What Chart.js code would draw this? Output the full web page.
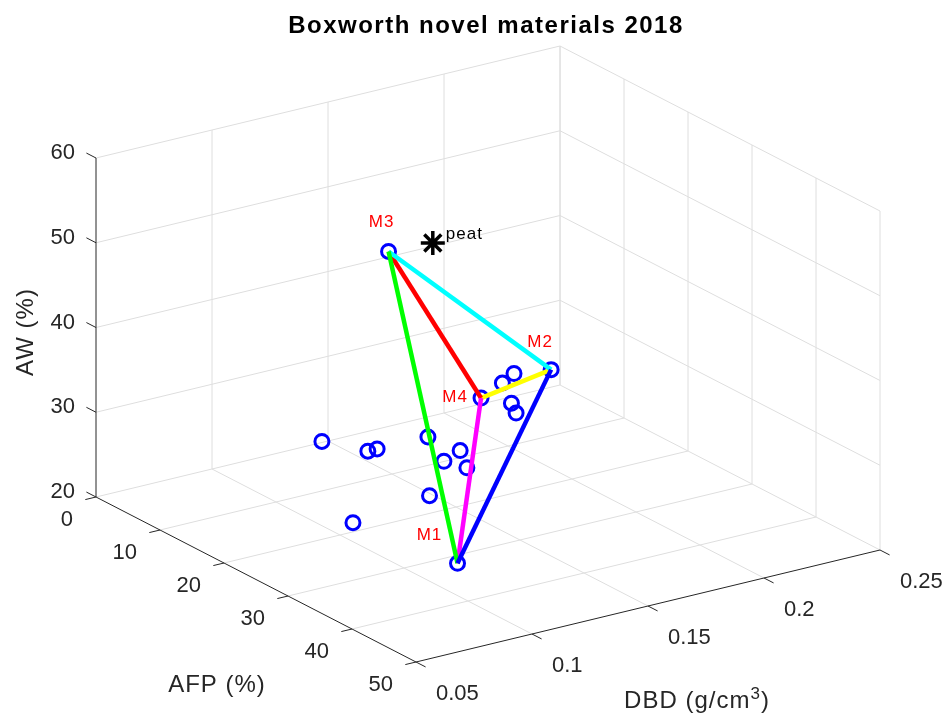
<!DOCTYPE html>
<html>
<head>
<meta charset="utf-8">
<title>Boxworth novel materials 2018</title>
<script src="https://cdn.jsdelivr.net/npm/chart.js@4"></script>
<style>
  html, body { margin: 0; padding: 0; background: #fff; }
  canvas { display: block; }
</style>
</head>
<body>
<canvas id="boxworthChart" width="945" height="717"></canvas>
<script>
// Axis ticks
const dbdTicks = [0.05, 0.1, 0.15, 0.2, 0.25];
const afpTicks = [0, 10, 20, 30, 40, 50];
const awTicks = [20, 30, 40, 50, 60];

// The four novel materials
const materialNames = ['M1', 'M2', 'M3', 'M4'];
const materialDBD = [0.101, 0.191, 0.143, 0.147];
const materialAFP = [38, 20, 12, 25];
const materialAW = [23.6, 33.5, 47.5, 35.0];

// Mixes of the materials
const mixDBD = [0.106, 0.112, 0.116, 0.131, 0.131, 0.138, 0.134, 0.111, 0.078, 0.170, 0.175, 0.167, 0.169];
const mixAFP = [15, 20, 20, 22.5, 25, 25, 27.5, 30, 30, 20, 20, 22.5, 22.5];
const mixAW = [28.7, 29.1, 29.1, 30.5, 28.6, 29.4, 28.6, 27.8, 26.8, 33.3, 34.1, 32.1, 30.8];

// Peat reference
const peatDBD = [0.140];
const peatAFP = [20];
const peatAW = [51.8];

// Which materials are joined (index into materialNames)
const linkFrom = [0, 0, 0, 1, 2, 1];
const linkTo = [1, 2, 3, 2, 3, 3];
const linkColors = ['#0000ff', '#00ff00', '#ff00ff', '#00ffff', '#ff0000', '#ffff00'];

const FONT = '"Liberation Sans", Arial, Helvetica, sans-serif';
const AXIS_COLOR = '#262626';
const GRID_COLOR = '#dedede';

/* Screen placement of the 3D box (matlab default-ish view) */
const view = { ox: 96, oy: 497, ex: [464, -112], ey: [320, 165], ez: [0, -339] };

const dbdMin = dbdTicks[0], dbdMax = dbdTicks[dbdTicks.length - 1];
const afpMin = afpTicks[0], afpMax = afpTicks[afpTicks.length - 1];
const awMin = awTicks[0], awMax = awTicks[awTicks.length - 1];

/* Orthographic projection of a data point to the flat chart scales */
const project = (dbd, afp, aw) => {
    const u = (dbd - dbdMin) / (dbdMax - dbdMin);
    const v = (afp - afpMin) / (afpMax - afpMin);
    const w = (aw - awMin) / (awMax - awMin);
    return {
        x: view.ox + u * view.ex[0] + v * view.ey[0] + w * view.ez[0],
        y: view.oy + u * view.ex[1] + v * view.ey[1] + w * view.ez[1]
    };
};

/* A two-point line dataset between two 3D points */
const segment = (a, b, color, width, order) => ({
    type: 'scatter',
    data: [project(...a), project(...b)],
    showLine: true,
    borderColor: color,
    borderWidth: width,
    pointRadius: 0,
    fill: false,
    order: order
});

/* Grid lines on the three back planes */
const buildGrid = () => {
    let sets = [];
    // back wall (AFP = min)
    dbdTicks.slice(1).forEach(d => sets.push(segment([d, afpMin, awMin], [d, afpMin, awMax], GRID_COLOR, 1, 20)));
    awTicks.forEach(a => sets.push(segment([dbdMin, afpMin, a], [dbdMax, afpMin, a], GRID_COLOR, 1, 20)));
    // side wall (DBD = max)
    afpTicks.forEach(f => sets.push(segment([dbdMax, f, awMin], [dbdMax, f, awMax], GRID_COLOR, 1, 20)));
    awTicks.slice(1).forEach(a => sets.push(segment([dbdMax, afpMin, a], [dbdMax, afpMax, a], GRID_COLOR, 1, 20)));
    // floor (AW = min)
    dbdTicks.slice(1).forEach(d => sets.push(segment([d, afpMin, awMin], [d, afpMax, awMin], GRID_COLOR, 1, 20)));
    afpTicks.slice(1, -1).forEach(f => sets.push(segment([dbdMin, f, awMin], [dbdMax, f, awMin], GRID_COLOR, 1, 20)));
    return sets;
};

/* Axis lines and tick marks */
const buildAxes = () => {
    let sets = [];
    sets.push(segment([dbdMin, afpMin, awMin], [dbdMin, afpMin, awMax], AXIS_COLOR, 1, 15));
    sets.push(segment([dbdMin, afpMin, awMin], [dbdMin, afpMax, awMin], AXIS_COLOR, 1, 15));
    sets.push(segment([dbdMin, afpMax, awMin], [dbdMax, afpMax, awMin], AXIS_COLOR, 1, 15));

    const afpTick = 0.03 * (afpMax - afpMin);
    const dbdTick = 0.023 * (dbdMax - dbdMin);
    awTicks.forEach(a => sets.push(segment([dbdMin, afpMin, a], [dbdMin, afpMin - afpTick, a], AXIS_COLOR, 1, 15)));
    afpTicks.forEach(f => sets.push(segment([dbdMin, f, awMin], [dbdMin - dbdTick, f, awMin], AXIS_COLOR, 1, 15)));
    dbdTicks.forEach(d => sets.push(segment([d, afpMax, awMin], [d, afpMax + afpTick, awMin], AXIS_COLOR, 1, 15)));
    return sets;
};

/* Lines joining the materials */
const buildLinks = () => linkFrom.map((from, i) => {
    const to = linkTo[i];
    return segment(
        [materialDBD[from], materialAFP[from], materialAW[from]],
        [materialDBD[to], materialAFP[to], materialAW[to]],
        linkColors[i], 4.5, 3);
});

// pixel offsets of the text labels from their markers
const materialLabelOffset = [[-28, -28], [-11, -27], [-7, -29], [-26, -1]];

/* Draws the title, tick labels, axis labels and marker labels */
const textPlugin = {
    id: 'textPlugin',
    afterDatasetsDraw(chart) {
        const ctx = chart.ctx;
        const sx = chart.scales.x, sy = chart.scales.y;
        const px = (p) => ({ x: sx.getPixelForValue(p.x), y: sy.getPixelForValue(p.y) });
        const spacing = (s) => { if ('letterSpacing' in ctx) ctx.letterSpacing = s; };

        ctx.save();
        ctx.fillStyle = AXIS_COLOR;

        // tick labels
        spacing('0px');
        ctx.font = '22px ' + FONT;
        ctx.textBaseline = 'middle';
        ctx.textAlign = 'right';
        awTicks.forEach(a => {
            const p = px(project(dbdMin, afpMin, a));
            ctx.fillText(String(a), p.x - 21, p.y - 5);
        });
        afpTicks.forEach(f => {
            const p = px(project(dbdMin, f, awMin));
            ctx.fillText(String(f), p.x - 23, p.y + 23);
        });
        ctx.textAlign = 'left';
        dbdTicks.forEach(d => {
            const p = px(project(d, afpMax, awMin));
            ctx.fillText(String(d), p.x + 20, p.y + 32);
        });

        // axis labels
        spacing('1px');
        ctx.font = '24px ' + FONT;
        ctx.textBaseline = 'alphabetic';
        ctx.textAlign = 'center';
        ctx.fillText('AFP (%)', 217, 692);

        ctx.save();
        ctx.translate(33, 332);
        ctx.rotate(-Math.PI / 2);
        ctx.fillText('AW (%)', 0, 0);
        ctx.restore();

        // DBD label with superscript
        const main = 'DBD (g/cm';
        ctx.font = '24px ' + FONT;
        const w1 = ctx.measureText(main).width;
        const w3 = ctx.measureText(')').width;
        ctx.font = '17px ' + FONT;
        const w2 = ctx.measureText('3').width;
        let x0 = 697 - (w1 + w2 + w3) / 2;
        ctx.textAlign = 'left';
        ctx.font = '24px ' + FONT;
        ctx.fillText(main, x0, 708);
        ctx.font = '17px ' + FONT;
        ctx.fillText('3', x0 + w1, 699);
        ctx.font = '24px ' + FONT;
        ctx.fillText(')', x0 + w1 + w2, 708);

        // title
        ctx.fillStyle = '#000';
        spacing('1.5px');
        ctx.font = 'bold 24px ' + FONT;
        ctx.textAlign = 'center';
        ctx.fillText('Boxworth novel materials 2018', 486, 33);

        // material labels
        spacing('1px');
        ctx.font = '17px ' + FONT;
        ctx.textBaseline = 'middle';
        ctx.fillStyle = '#ff0000';
        materialNames.forEach((name, i) => {
            const p = px(project(materialDBD[i], materialAFP[i], materialAW[i]));
            ctx.fillText(name, p.x + materialLabelOffset[i][0], p.y + materialLabelOffset[i][1]);
        });
        ctx.fillStyle = '#000';
        ctx.textAlign = 'left';
        const pp = px(project(peatDBD[0], peatAFP[0], peatAW[0]));
        ctx.fillText('peat', pp.x + 13, pp.y - 9);

        ctx.restore();
    }
};

/* Builds the 3D scatter */
const buildChart = () => {

    const mixPoints = mixDBD.map((d, i) => project(d, mixAFP[i], mixAW[i]));
    const materialPoints = materialDBD.map((d, i) => project(d, materialAFP[i], materialAW[i]));
    const peatPoints = peatDBD.map((d, i) => project(d, peatAFP[i], peatAW[i]));

    const datasets = [
        ...buildGrid(),
        ...buildAxes(),
        {
            label: 'Mixes',
            data: mixPoints,
            pointStyle: 'circle',
            pointRadius: 7,
            borderColor: '#0000ff',
            backgroundColor: 'rgba(0,0,0,0)',
            borderWidth: 3,
            order: 6
        },
        {
            label: 'Materials',
            data: materialPoints,
            pointStyle: 'circle',
            pointRadius: 7,
            borderColor: '#0000ff',
            backgroundColor: 'rgba(0,0,0,0)',
            borderWidth: 3,
            order: 5
        },
        ...buildLinks(),
        {
            label: 'peat',
            data: peatPoints,
            pointStyle: 'star',
            pointRadius: 12,
            borderColor: '#000',
            backgroundColor: '#000',
            borderWidth: 3.5,
            order: 2
        }
    ];

    const config = {
        type: 'scatter',
        data: { datasets: datasets },
        options: {
            responsive: false,
            animation: false,
            events: [],
            layout: { padding: 0, autoPadding: false },
            plugins: {
                legend: { display: false },
                tooltip: { enabled: false },
                title: { display: false }
            },
            scales: {
                x: { type: 'linear', min: 0, max: 945, display: false },
                y: { type: 'linear', min: 0, max: 717, reverse: true, display: false }
            }
        },
        plugins: [textPlugin]
    };

    const ctx = document.getElementById('boxworthChart').getContext('2d');
    new Chart(ctx, config);
};

document.addEventListener('DOMContentLoaded', () => {
    buildChart();
});
</script>
</body>
</html>
